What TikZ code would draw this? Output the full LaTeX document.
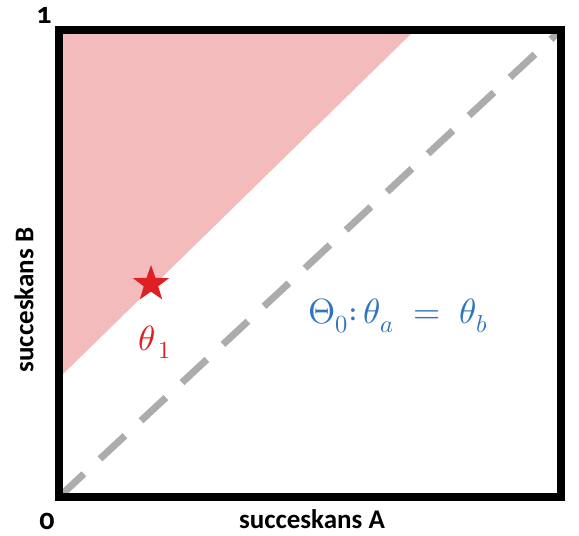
\documentclass[tikz,border=0pt]{standalone}
\usepackage{amsmath,amssymb}
\usepackage{fontspec}
\usepackage{unicode-math}
\usepackage{tikz}
\usetikzlibrary{shapes.geometric}
\setsansfont{Carlito}
\setmathfont{Latin Modern Math}
\newfontfamily\numfont[Numbers=OldStyle]{Carlito}
\definecolor{nulblauw}{RGB}{46,117,190}
\definecolor{altrood}{RGB}{222,32,36}
\definecolor{altroze}{RGB}{244,187,188}
\definecolor{diaggrijs}{RGB}{172,172,172}

\begin{document}
\begin{tikzpicture}[x=1pt, y=1pt,
    frame/.style={draw=black, line width=8pt, line join=miter},
    diag/.style={draw=diaggrijs, line width=7pt, dash pattern=on 34pt off 22pt},
    axislabel/.style={font=\sffamily\bfseries\fontsize{27}{32}\selectfont},
    ticklabel/.style={font=\numfont\bfseries\fontsize{30}{34}\selectfont},
    bigmath/.style={font=\fontsize{35}{42}\selectfont}
]
\useasboundingbox (0,0) rectangle (579,536);
% hoeken van het vierkant
\coordinate (O) at (59,39);
\coordinate (R) at (561,506);
% alternatief-gebied
\fill[altroze] (59,158) -- (59,506) -- (415,506) -- cycle;
% nulhypothese: diagonaal
\draw[diag] (O) -- (R);
\draw[frame] (O) rectangle (R);
% labels
\node[axislabel] (xlab) at (312,17) {succeskans A};
\node[axislabel, rotate=90] (ylab) at (24,236) {succeskans B};
\node[ticklabel] (nul) at (47,15) {0};
\node[ticklabel] (een) at (44,521) {1};
\node[star, star points=5, star point ratio=2.5, fill=altrood, minimum size=38pt, inner sep=0pt] (ster) at (151,252) {};
\node[bigmath, text=altrood] (theta1) at (155,194) {$\theta_{\,1}$};
\node[bigmath, text=nulblauw] (H0) at (398,220) {$\Theta_0{:}\,\theta_a\;=\;\theta_b$};
\end{tikzpicture}
\end{document}
